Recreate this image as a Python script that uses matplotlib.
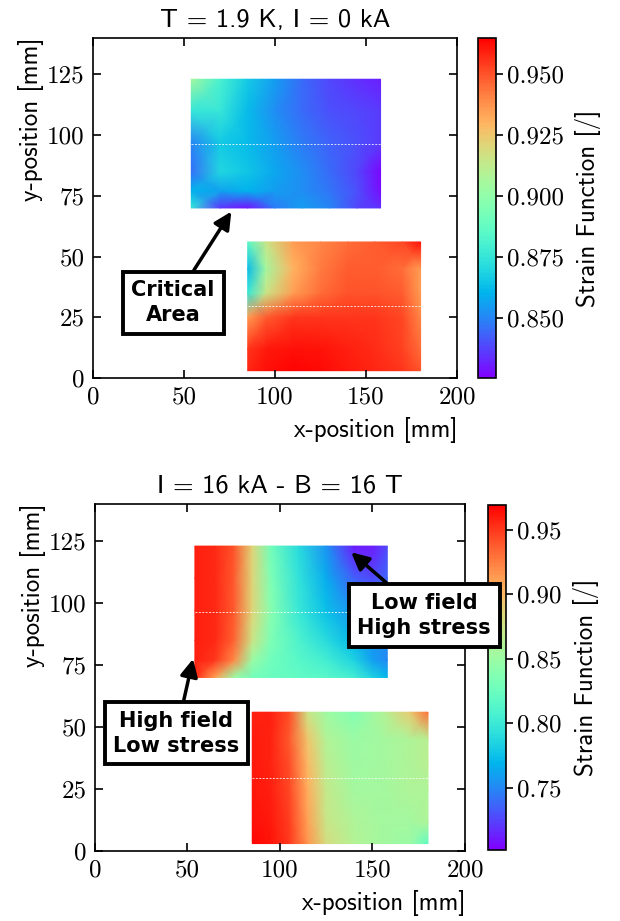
import numpy as np
import matplotlib
matplotlib.use('Agg')
import matplotlib.pyplot as plt
from matplotlib.colors import Normalize

# Block outlines (mm) and the seam between the two halves of each block
upper_x = [54, 70, 85, 100, 115, 130, 145, 158]
upper_y = [70, 77, 85, 97, 110, 123]
lower_x = [85, 95, 110, 125, 140, 155, 170, 180]
lower_y = [3, 12, 25, 35, 45, 56]
upper_seam = 96.5
lower_seam = 29.5

# Strain function, T = 1.9 K, I = 0 kA (rows follow upper_y / lower_y)
cold_upper = [
    [0.875, 0.835, 0.829, 0.848, 0.855, 0.850, 0.838, 0.834],
    [0.860, 0.856, 0.860, 0.855, 0.852, 0.847, 0.840, 0.828],
    [0.846, 0.870, 0.865, 0.857, 0.852, 0.845, 0.838, 0.827],
    [0.850, 0.866, 0.862, 0.855, 0.848, 0.843, 0.840, 0.836],
    [0.875, 0.875, 0.862, 0.852, 0.845, 0.840, 0.838, 0.836],
    [0.905, 0.880, 0.866, 0.855, 0.845, 0.838, 0.834, 0.831],
]
cold_lower = [
    [0.958, 0.962, 0.964, 0.963, 0.960, 0.958, 0.955, 0.950],
    [0.955, 0.960, 0.962, 0.961, 0.959, 0.957, 0.953, 0.945],
    [0.935, 0.948, 0.955, 0.955, 0.955, 0.955, 0.952, 0.940],
    [0.875, 0.915, 0.935, 0.945, 0.950, 0.950, 0.948, 0.935],
    [0.862, 0.905, 0.930, 0.942, 0.948, 0.948, 0.945, 0.935],
    [0.885, 0.915, 0.935, 0.940, 0.945, 0.948, 0.952, 0.962],
]

# Strain function, I = 16 kA, B = 16 T
field_upper_x = [54, 65, 75, 85, 95, 110, 125, 140, 150, 158]
field_lower_x = [85, 95, 105, 115, 125, 140, 155, 170, 180]
field_upper = [
    [0.955, 0.910, 0.850, 0.830, 0.825, 0.820, 0.815, 0.805, 0.785, 0.770],
    [0.958, 0.950, 0.920, 0.850, 0.828, 0.815, 0.805, 0.785, 0.760, 0.750],
    [0.958, 0.955, 0.935, 0.875, 0.835, 0.810, 0.790, 0.770, 0.755, 0.752],
    [0.958, 0.955, 0.938, 0.885, 0.840, 0.800, 0.775, 0.755, 0.750, 0.750],
    [0.958, 0.955, 0.938, 0.885, 0.835, 0.795, 0.765, 0.735, 0.728, 0.738],
    [0.958, 0.955, 0.940, 0.885, 0.830, 0.790, 0.755, 0.712, 0.712, 0.728],
]
field_lower = [
    [0.966, 0.962, 0.950, 0.915, 0.880, 0.862, 0.855, 0.850, 0.820],
    [0.963, 0.960, 0.948, 0.910, 0.874, 0.860, 0.855, 0.855, 0.860],
    [0.961, 0.958, 0.945, 0.905, 0.870, 0.855, 0.855, 0.860, 0.860],
    [0.960, 0.957, 0.942, 0.900, 0.866, 0.852, 0.855, 0.860, 0.865],
    [0.959, 0.957, 0.938, 0.893, 0.862, 0.850, 0.855, 0.860, 0.865],
    [0.957, 0.958, 0.942, 0.875, 0.852, 0.838, 0.860, 0.890, 0.930],
]

cold_range = (0.8254, 0.9648)
field_range = (0.702, 0.969)
cold_ticks = [0.850, 0.875, 0.900, 0.925, 0.950]
field_ticks = [0.75, 0.80, 0.85, 0.90, 0.95]

plt.rcParams['axes.linewidth'] = 1.2
plt.rcParams['xtick.major.width'] = 1.2
plt.rcParams['ytick.major.width'] = 1.2
plt.rcParams['axes.unicode_minus'] = False

serif = 'cmr10'
sans = 'cmss10'
note_font = 'DejaVu Sans'

fig = plt.figure(figsize=(6.2, 9.21), dpi=100)


def draw_panel(ax, cax, blocks, vrange, ticks, fmt, title):
    norm = Normalize(*vrange)
    mesh = None
    for xs, ys, z in blocks:
        X, Y = np.meshgrid(xs, ys)
        mesh = ax.pcolormesh(X, Y, np.array(z), cmap='rainbow', norm=norm,
                             shading='gouraud', rasterized=True)
    ax.hlines(upper_seam, upper_x[0], upper_x[-1], colors='white', lw=0.7,
              linestyles=(0, (2, 1.5)), alpha=0.8)
    ax.hlines(lower_seam, lower_x[0], lower_x[-1], colors='white', lw=0.7,
              linestyles=(0, (2, 1.5)), alpha=0.8)
    ax.set_xlim(0, 200)
    ax.set_ylim(0, 140)
    ax.set_xticks([0, 50, 100, 150, 200])
    ax.set_yticks([0, 25, 50, 75, 100, 125])
    ax.tick_params(direction='in', top=True, right=True, length=6,
                   labelsize=18, pad=6)
    for lab in ax.get_xticklabels() + ax.get_yticklabels():
        lab.set_fontfamily(serif)
    ax.set_xlabel('x-position [mm]', family=sans, fontsize=18, loc='right',
                  labelpad=6)
    ax.set_ylabel('y-position [mm]', family=sans, fontsize=18, loc='top',
                  labelpad=2)
    ax.set_title(title, family=sans, fontsize=19, pad=8)

    cb = fig.colorbar(mesh, cax=cax)
    cb.set_ticks(ticks)
    cb.set_ticklabels([fmt.format(t) for t in ticks])
    cb.outline.set_linewidth(1.2)
    cax.tick_params(direction='out', length=5, labelsize=18, pad=3)
    for lab in cax.get_yticklabels():
        lab.set_fontfamily(serif)
    cb.set_label('Strain Function [/]', family=sans, fontsize=18, labelpad=8)
    return cb


def note(ax, text, xy, xytext):
    ax.annotate(text, xy=xy, xytext=xytext, ha='center', va='center',
                family=note_font, fontweight='bold', fontsize=15,
                linespacing=1.3, annotation_clip=False,
                bbox=dict(boxstyle='square,pad=0.42', fc='white', ec='black',
                          lw=2.8),
                arrowprops=dict(arrowstyle='-|>,head_length=0.7,head_width=0.35',
                                color='black', lw=2.5, shrinkA=0, shrinkB=0))


# top panel
ax1 = fig.add_axes([0.1500, 0.5896, 0.5871, 0.3692])
cax1 = fig.add_axes([0.7710, 0.5896, 0.0290, 0.3692])
draw_panel(ax1, cax1,
           [(upper_x, upper_y, cold_upper), (lower_x, lower_y, cold_lower)],
           cold_range, cold_ticks, '{:.3f}', 'T = 1.9 K, I = 0 kA')
note(ax1, 'Critical\nArea', xy=(76, 68.5), xytext=(44, 31))

# bottom panel
ax2 = fig.add_axes([0.1532, 0.0760, 0.5968, 0.3768])
cax2 = fig.add_axes([0.7871, 0.0771, 0.0290, 0.3746])
draw_panel(ax2, cax2,
           [(field_upper_x, upper_y, field_upper),
            (field_lower_x, lower_y, field_lower)],
           field_range, field_ticks, '{:.2f}', 'I = 16 kA - B = 16 T')
ax2.set_zorder(cax2.get_zorder() + 1)
note(ax2, 'Low field\nHigh stress', xy=(138.5, 120.5), xytext=(178, 95))
note(ax2, 'High field\nLow stress', xy=(53, 77.5), xytext=(44, 47.5))

fig.savefig('out.png', dpi=100)
